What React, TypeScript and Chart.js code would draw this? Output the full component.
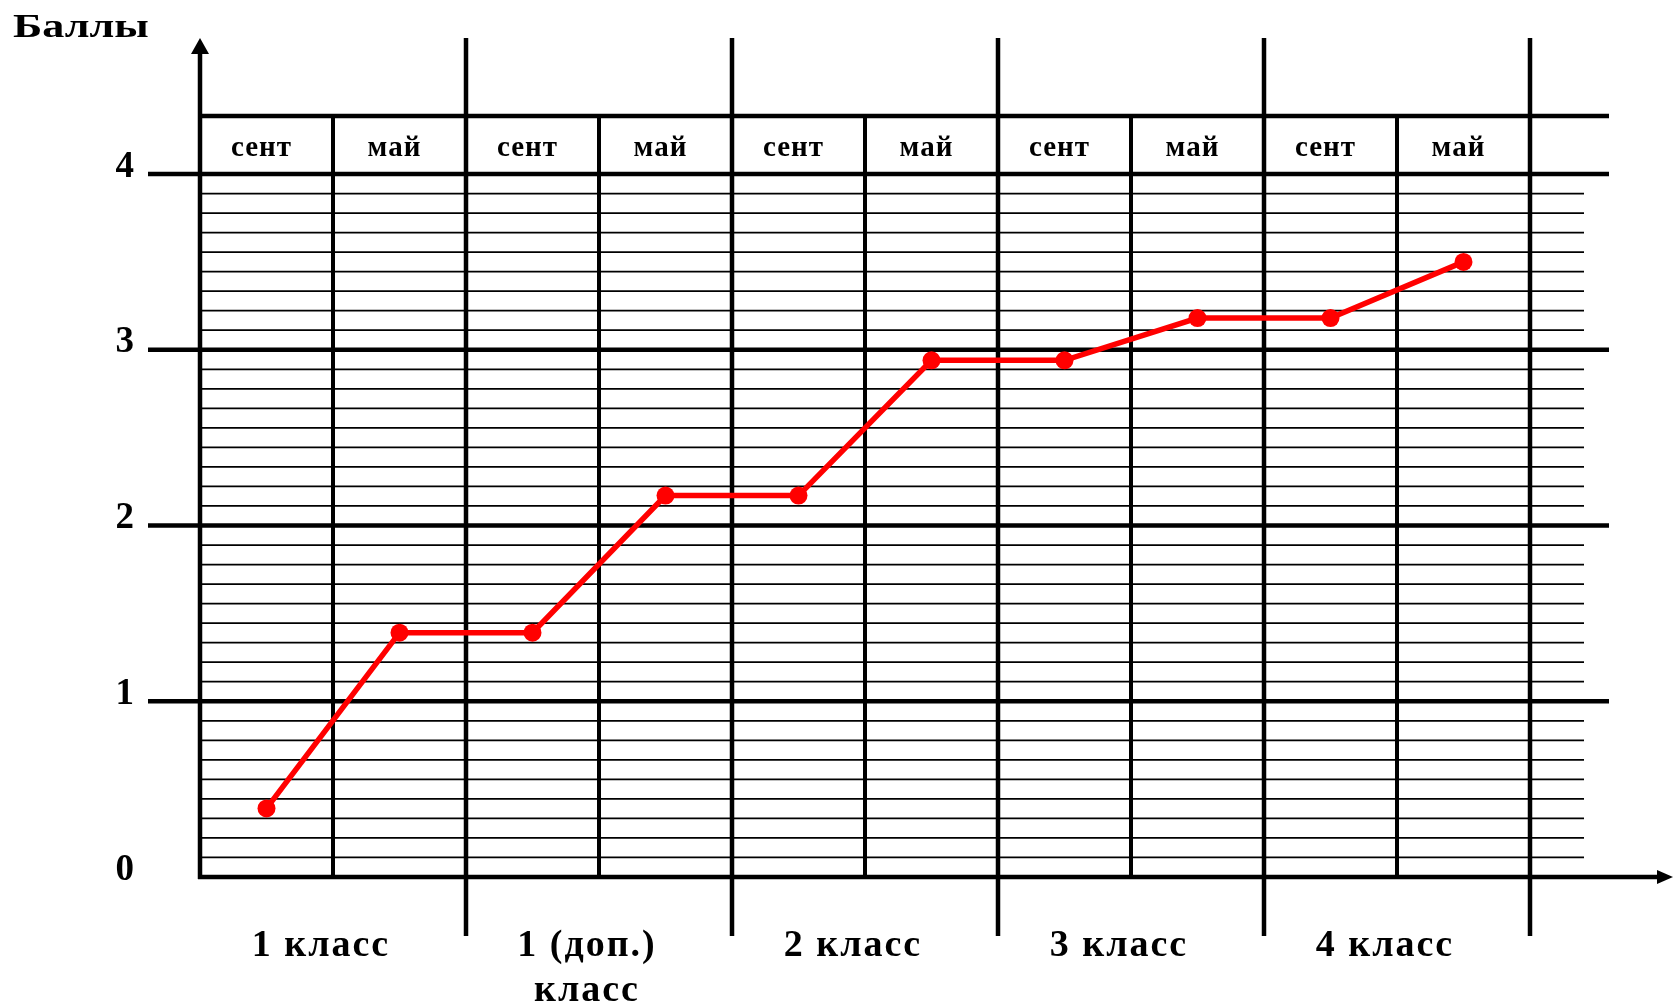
import React, { useEffect, useRef } from 'react';
import { Chart, registerables, CategoryScale } from 'chart.js';

Chart.register(...registerables);

// ---- data ----
const periods = ['сент', 'май', 'сент', 'май', 'сент', 'май', 'сент', 'май', 'сент', 'май'];
const classLabels = [['1 класс'], ['1 (доп.)', 'класс'], ['2 класс'], ['3 класс'], ['4 класс']];
const scores = [0.39, 1.39, 1.39, 2.17, 2.17, 2.94, 2.94, 3.18, 3.18, 3.5];
const yMin = 0;
const yMax = 4;
const yStep = 1;
const minorDivisions = 9;
const yTitle = 'Баллы';

const FONT = '"Liberation Serif", "Times New Roman", serif';
const W = 1673;
const H = 1006;

// draw a category scale with extra letter spacing
const spacedDraw = (s: any, spacing: string) => {
  s.draw = (area: any) => {
    const c = s.ctx;
    const prev = c.letterSpacing;
    c.letterSpacing = spacing;
    CategoryScale.prototype.draw.call(s, area);
    c.letterSpacing = prev;
  };
};

const framePlugin = {
  id: 'framePlugin',
  beforeDatasetsDraw(chart: any) {
    const { ctx, chartArea: ca, scales } = chart;
    const x = scales.x;
    const y = scales.y;
    const n = periods.length;
    const step = x.getPixelForValue(1) - x.getPixelForValue(0);
    const bnd = (i: number) => x.getPixelForValue(i) - step / 2;
    const arrowTop = ca.top - 136;
    const headerTop = ca.top - 58;
    const majorBottom = ca.bottom + 59;
    const thickRight = ca.right + 79;
    const thinRight = ca.right + 54;
    const tickLeft = ca.left - 52;

    ctx.save();
    ctx.strokeStyle = '#000';
    ctx.fillStyle = '#000';
    ctx.lineCap = 'butt';

    const hline = (py: number, x1: number, x2: number, w: number) => {
      ctx.lineWidth = w;
      ctx.beginPath();
      ctx.moveTo(x1, py);
      ctx.lineTo(x2, py);
      ctx.stroke();
    };
    const vline = (px: number, y1: number, y2: number, w: number) => {
      ctx.lineWidth = w;
      ctx.beginPath();
      ctx.moveTo(px, y1);
      ctx.lineTo(px, y2);
      ctx.stroke();
    };

    // thin minor lines
    for (let v = yMin; v < yMax; v += yStep) {
      for (let k = 1; k < minorDivisions; k++) {
        const py = y.getPixelForValue(v + (k * yStep) / minorDivisions);
        hline(py, ca.left, thinRight, 1.7);
      }
    }
    // major horizontal lines
    for (let v = yMin + yStep; v <= yMax; v += yStep) {
      hline(y.getPixelForValue(v), tickLeft, thickRight, 4.5);
    }
    // header top line
    hline(headerTop, ca.left, thickRight, 4.5);
    // x axis with arrow
    const y0 = y.getPixelForValue(yMin);
    hline(y0, ca.left - 2, W - 10, 4.5);
    ctx.beginPath();
    ctx.moveTo(W, y0);
    ctx.lineTo(W - 16, y0 - 7);
    ctx.lineTo(W - 16, y0 + 7);
    ctx.closePath();
    ctx.fill();

    // vertical lines
    for (let i = 0; i <= n; i++) {
      const px = bnd(i);
      if (i === 0) {
        vline(px, arrowTop + 10, ca.bottom + 2, 4.5);
        ctx.beginPath();
        ctx.moveTo(px, arrowTop);
        ctx.lineTo(px - 9, arrowTop + 16);
        ctx.lineTo(px + 9, arrowTop + 16);
        ctx.closePath();
        ctx.fill();
      } else if (i % 2 === 0) {
        vline(px, arrowTop, majorBottom, 4.5);
      } else {
        vline(px, headerTop, ca.bottom, 4);
      }
    }

    // axis title (slightly widened like the original)
    ctx.font = `bold 34px ${FONT}`;
    ctx.textAlign = 'left';
    ctx.textBaseline = 'alphabetic';
    ctx.translate(13, 37);
    ctx.scale(1.3, 1);
    ctx.fillText(yTitle, 0, 0);
    ctx.restore();
  },
};

export default function App() {
  const ref = useRef<HTMLCanvasElement | null>(null);

  useEffect(() => {
    document.body.style.margin = '0';
    const canvas = ref.current;
    if (!canvas) return;
    const chart = new Chart(canvas, {
      type: 'line',
      data: {
        labels: periods,
        datasets: [
          {
            data: scores,
            xAxisID: 'x',
            yAxisID: 'y',
            borderColor: '#ff0000',
            backgroundColor: '#ff0000',
            borderWidth: 5.5,
            pointRadius: 9,
            pointBorderWidth: 0,
            pointBackgroundColor: '#ff0000',
            tension: 0,
          },
        ],
      },
      options: {
        responsive: false,
        animation: false,
        devicePixelRatio: 1,
        layout: { padding: { left: 0, right: 143, top: 0, bottom: 0 } },
        plugins: {
          legend: { display: false },
          tooltip: { enabled: false },
        },
        scales: {
          x: {
            type: 'category',
            position: 'top',
            offset: true,
            grid: { display: false, drawTicks: false },
            border: { display: false },
            ticks: {
              color: '#000',
              font: { family: FONT, size: 29, weight: 'bold' },
              padding: 8,
              labelOffset: -5,
              autoSkip: false,
              maxRotation: 0,
            },
            afterFit: (s: any) => {
              s.height = 174;
              spacedDraw(s, '1px');
            },
          },
          x2: {
            type: 'category',
            position: 'bottom',
            labels: classLabels as any,
            offset: true,
            grid: { display: false, drawTicks: false },
            border: { display: false },
            ticks: {
              color: '#000',
              font: { family: FONT, size: 38, weight: 'bold', lineHeight: 1.2 },
              padding: 46,
              labelOffset: -12,
              autoSkip: false,
              maxRotation: 0,
            },
            afterFit: (s: any) => {
              s.height = 129;
              spacedDraw(s, '2px');
            },
          },
          y: {
            type: 'linear',
            position: 'left',
            min: yMin,
            max: yMax,
            grid: { display: false, drawTicks: false },
            border: { display: false },
            ticks: {
              stepSize: yStep,
              color: '#000',
              font: { family: FONT, size: 37, weight: 'bold' },
              padding: 66,
              labelOffset: -7,
            },
            afterFit: (s: any) => {
              s.width = 200;
            },
          },
        },
      },
      plugins: [framePlugin],
    });
    return () => chart.destroy();
  }, []);

  return (
    <div style={{ width: W, height: H, background: '#fff' }}>
      <canvas ref={ref} width={W} height={H} style={{ display: 'block' }} />
    </div>
  );
}
